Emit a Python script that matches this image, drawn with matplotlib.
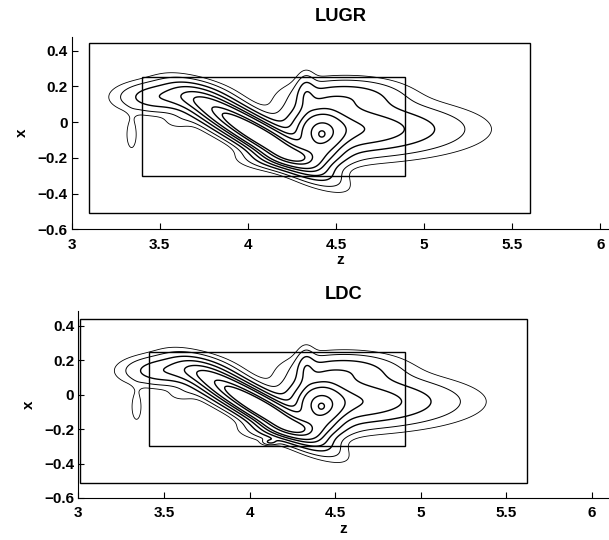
import matplotlib
matplotlib.use("Agg")
import matplotlib.pyplot as plt
import numpy as np
from matplotlib.patches import Rectangle

plt.rcParams['font.family'] = ['Liberation Sans', 'DejaVu Sans']
plt.rcParams['font.weight'] = 'bold'
plt.rcParams['font.size'] = 11

# blob model of the density field:
# centre z, centre x, sigma behind / ahead along the axis, sigma across, angle (deg), amplitude
blob_z = [4.50, 4.41, 4.42, 4.07, 3.80, 3.50, 4.56, 4.33, 4.26, 3.34, 3.60, 4.12]
blob_x = [-0.04, -0.075, -0.07, -0.08, 0.07, 0.14, 0.15, 0.17, -0.20, -0.07, 0.00, -0.275]
blob_sl = [0.20, 0.085, 0.015, 0.22, 0.15, 0.15, 0.20, 0.035, 0.16, 0.025, 0.06, 0.03]
blob_sr = [0.40, 0.085, 0.015, 0.22, 0.15, 0.20, 0.20, 0.035, 0.16, 0.025, 0.06, 0.03]
blob_sc = [0.09, 0.095, 0.015, 0.05, 0.06, 0.055, 0.06, 0.07, 0.04, 0.07, 0.03, 0.012]
blob_ang = [0, 0, 0, -30, -25, 0, 0, 0, 0, 0, 0, 0]
lugr_amp = [0.8, 1.0, 0.15, 2.3, 0.55, 0.45, 0.38, 0.25, 0.5, 0.12, 0.08, 0.0]
ldc_amp = [0.8, 1.0, 0.15, 2.3, 0.55, 0.45, 0.38, 0.25, 0.5, 0.12, 0.08, 0.25]

levels = [0.07, 0.15, 0.3, 0.5, 0.75, 1.0, 1.45, 1.75]
line_w = [0.6, 0.7, 1.0, 1.0, 1.0, 1.0, 1.0, 1.0]

# domain and reconstruction boxes (z0, z1, x0, x1)
lugr_outer = (3.10, 5.60, -0.51, 0.44)
lugr_inner = (3.40, 4.89, -0.30, 0.25)
ldc_outer = (3.01, 5.62, -0.515, 0.44)
ldc_inner = (3.41, 4.91, -0.30, 0.25)

xticks = [3, 3.5, 4, 4.5, 5, 5.5, 6]
yticks = [-0.6, -0.4, -0.2, 0, 0.2, 0.4]


def tick_text(v):
    return ('%g' % v).replace('-', '\u2212')


def field(Z, X, amps):
    F = np.zeros_like(Z)
    for i, a in enumerate(amps):
        t = np.deg2rad(blob_ang[i])
        dz = Z - blob_z[i]
        dx = X - blob_x[i]
        u = dz * np.cos(t) + dx * np.sin(t)
        v = -dz * np.sin(t) + dx * np.cos(t)
        sa = np.where(u < 0, blob_sl[i], blob_sr[i])
        F += a * np.exp(-0.5 * ((u / sa) ** 2 + (v / blob_sc[i]) ** 2))
    return F


def draw_panel(ax, title, amps, outer, inner, xlim, ylim, pad):
    zz = np.linspace(outer[0], outer[1], 700)
    xx = np.linspace(outer[2], outer[3], 400)
    Z, X = np.meshgrid(zz, xx)
    F = field(Z, X, amps)
    ax.contour(Z, X, F, levels=levels, colors='k', linewidths=line_w)
    for b in (outer, inner):
        ax.add_patch(Rectangle((b[0], b[2]), b[1] - b[0], b[3] - b[2],
                               fill=False, ec='k', lw=1.0))
    ax.set_xlim(*xlim)
    ax.set_ylim(*ylim)
    ax.spines['top'].set_visible(False)
    ax.spines['right'].set_visible(False)
    ax.set_xticks(xticks)
    ax.set_xticklabels([tick_text(v) for v in xticks])
    ax.set_yticks(yticks)
    ax.set_yticklabels([tick_text(v) for v in yticks])
    ax.tick_params(direction='in', length=4, width=0.8)
    ax.tick_params(axis='x', pad=6)
    ax.tick_params(axis='y', pad=3)
    ax.set_xlabel('z', fontweight='bold', labelpad=1)
    ax.set_ylabel('x', fontweight='bold', labelpad=6)
    ax.set_title(title, fontweight='bold', pad=pad)


fig = plt.figure(figsize=(6.09, 5.40), dpi=100)
ax1 = fig.add_axes([0.1177, 0.5754, 0.8823, 0.3567])
ax2 = fig.add_axes([0.1286, 0.0778, 0.8714, 0.3469])

draw_panel(ax1, 'LUGR', lugr_amp, lugr_outer, lugr_inner, (3, 6.05), (-0.6, 0.478), 11)
draw_panel(ax2, 'LDC', ldc_amp, ldc_outer, ldc_inner, (3, 6.10), (-0.6, 0.489), 8.5)

fig.savefig('out.png', dpi=100)
